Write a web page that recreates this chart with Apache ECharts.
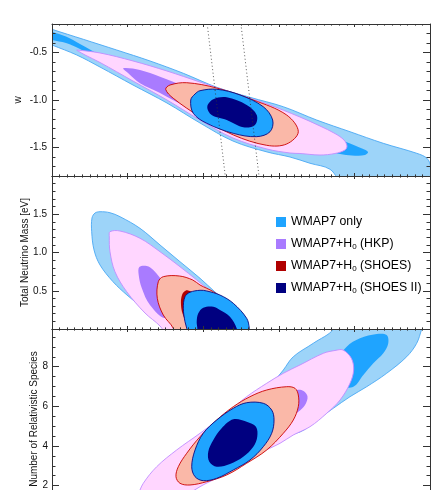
<!DOCTYPE html>
<html>
<head>
<meta charset="utf-8">
<script src="https://cdn.jsdelivr.net/npm/echarts@6/dist/echarts.min.js"></script>
<style>
  html, body { margin: 0; padding: 0; background: #fff; }
  #chart { width: 446px; height: 490px; }
</style>
</head>
<body>
<div id="chart"></div>
<script>
// shared x axis: H0
var h0Min = 50, h0Max = 100;
var wTicks = [-1.5, -1.0, -0.5];
var mnuTicks = [0.5, 1.0, 1.5];
var neffTicks = [2, 4, 6, 8];
var legendNames = ["WMAP7 only", "WMAP7+H0 (HKP)", "WMAP7+H0 (SHOES)", "WMAP7+H0 (SHOES II)"];

// panel 1: [H0, w]
var wWmapOuter = [[48.41,-0.21],[50,-0.256],[54.14,-0.361],[58.56,-0.474],[62.96,-0.589],[67.37,-0.719],[71.79,-0.866],[76.19,-0.972],[80.60,-1.071],[85.01,-1.211],[89.42,-1.334],[93.82,-1.456],[98.24,-1.561],[99.60,-1.614],[100.13,-1.705],[100.79,-1.947],[88.76,-1.895],[86.77,-1.729],[84.13,-1.666],[81.48,-1.6],[78.44,-1.547],[73.94,-1.432],[69.58,-1.242],[65.21,-1.032],[60.71,-0.842],[56.35,-0.653],[53.27,-0.526],[50,-0.421],[48.41,-0.368]];
var wWmapInner = [[48.41,-0.242],[50,-0.281],[51.85,-0.332],[53.70,-0.411],[56.35,-0.526],[59.0,-0.611],[69.58,-0.916],[80.16,-1.189],[86.77,-1.379],[89.42,-1.458],[91.01,-1.511],[91.80,-1.547],[91.40,-1.579],[90.08,-1.586],[88.49,-1.574],[82.80,-1.474],[69.58,-1.084],[59.0,-0.684],[56.35,-0.579],[53.70,-0.463],[51.85,-0.4],[50,-0.368],[48.41,-0.326]];
var wHkpOuter = [[53.27,-0.474],[56.35,-0.505],[60.71,-0.589],[65.21,-0.695],[69.58,-0.811],[73.94,-0.926],[78.44,-1.042],[82.80,-1.179],[85.45,-1.274],[87.43,-1.353],[88.62,-1.421],[89.02,-1.484],[88.76,-1.526],[87.43,-1.563],[85.45,-1.579],[82.80,-1.563],[81.48,-1.558],[78.44,-1.516],[73.94,-1.4],[69.58,-1.211],[65.21,-1.0],[60.71,-0.8],[56.35,-0.605],[54.37,-0.526],[53.44,-0.484]];
var wHkpInner = [[59.43,-0.666],[61.64,-0.684],[64.29,-0.755],[67.37,-0.853],[70.46,-0.965],[71.79,-1.071],[70.46,-1.123],[67.37,-1.053],[64.29,-0.926],[61.64,-0.824],[60.09,-0.719]];
var wShoesOuter = [[65.04,-0.888],[65.61,-0.842],[67.82,-0.818],[71.79,-0.874],[76.63,-1.0],[81.04,-1.158],[82.58,-1.334],[81.04,-1.463],[78.40,-1.477],[73.98,-1.368],[69.58,-1.176],[66.04,-0.982]];
var wShoes2Outer = [[68.35,-1.0],[68.92,-0.937],[69.58,-0.902],[71.79,-0.887],[74.87,-0.947],[77.95,-1.071],[79.19,-1.211],[78.84,-1.334],[77.08,-1.386],[73.98,-1.351],[70.46,-1.245],[68.69,-1.14]];
var wShoes2Inner = [[70.54,-1.071],[71.34,-0.993],[73.11,-0.972],[75.75,-1.053],[77.08,-1.158],[76.85,-1.263],[75.30,-1.287],[73.11,-1.211],[71.12,-1.158]];
var h0LineLeft = [[70.53,-0.2],[72.92,-1.8]];
var h0LineRight = [[74.99,-0.2],[77.38,-1.8]];

// panel 2: [H0, total neutrino mass]
var mnuWmapOuter = [[55.69,1.516],[56.35,1.533],[57.67,1.520],[59.0,1.468],[61.64,1.316],[64.29,1.098],[66.93,0.880],[69.58,0.663],[71.56,0.484],[73.54,0.314],[74.87,0.118],[75.53,-0.144],[65.08,-0.144],[64.68,0.013],[64.02,0.131],[62.08,0.271],[59.92,0.444],[58.07,0.618],[56.35,0.837],[55.56,1.033],[55.25,1.272],[55.29,1.451]];
var mnuHkpOuter = [[57.67,1.272],[59.0,1.281],[61.64,1.186],[64.29,1.010],[66.93,0.814],[69.14,0.641],[70.90,0.497],[72.88,0.314],[74.21,0.118],[74.87,-0.144],[65.61,-0.144],[65.08,-0.078],[64.29,0.039],[62.30,0.209],[59.88,0.488],[58.33,0.749],[57.67,1.010],[57.58,1.203]];
var mnuHkpInner = [[61.55,0.810],[62.53,0.824],[63.40,0.771],[64.95,0.575],[66.27,0.314],[64.95,0.144],[62.96,0.314],[61.87,0.536],[61.47,0.706]];
var mnuShoesOuter = [[66.84,0.693],[68.61,0.641],[69.58,0.575],[71.34,0.488],[73.11,0.357],[74.87,0.183],[75.75,0.009],[76.19,-0.144],[66.27,-0.144],[66.04,0.009],[64.72,0.183],[63.93,0.401],[64.06,0.618],[64.72,0.684]];
var mnuShoesInner = [[67.2,0.444],[67.9,0.505],[69.58,0.405],[70.90,0.183],[70.24,0.013],[68.4,-0.013],[67.6,0.118],[67.1,0.275]];
var mnuShoes2Outer = [[68.25,0.480],[69.58,0.506],[70.46,0.497],[72.22,0.444],[73.98,0.336],[75.75,0.140],[76.10,0.009],[76.19,-0.144],[67.99,-0.144],[67.82,0.009],[67.59,0.096],[67.37,0.271],[67.59,0.422]];
var mnuShoes2Inner = [[70.01,0.278],[71.34,0.291],[72.22,0.248],[73.54,0.161],[74.43,0.009],[74.60,-0.144],[69.18,-0.144],[69.22,0.009],[69.14,0.096],[69.35,0.205]];

// panel 3: [H0, number of relativistic species]
var neffWmapOuter = [[86.77,10.354],[99.34,10.354],[98.90,9.885],[98.24,9.179],[96.92,8.503],[94.27,7.666],[91.63,6.990],[89.42,6.486],[87.21,5.901],[85.01,5.311],[82.80,4.706],[78.84,4.403],[74.87,4.302],[77.51,6.320],[80.60,7.832],[81.92,8.503],[84.56,9.179],[87.21,9.885]];
var neffWmapInner = [[88.98,9.007],[90.74,9.431],[92.95,9.648],[94.27,9.597],[94.48,9.179],[93.82,8.675],[92.50,8.170],[91.18,7.580],[89.86,6.990],[88.10,7.076],[87.43,8.085]];
var neffHkpOuter = [[88.49,8.841],[89.60,8.422],[89.90,7.832],[89.42,7.162],[88.10,6.320],[86.34,5.649],[84.13,4.973],[81.92,4.555],[80.16,4.136],[77.51,3.632],[74.87,2.956],[72.22,2.452],[69.58,1.948],[66.93,1.277],[64.29,0.520],[60.32,0.520],[61.38,1.529],[62.08,2.119],[63.85,2.956],[66.49,3.798],[69.58,4.640],[73.11,5.649],[75.75,6.486],[78.40,7.162],[80.60,7.666],[82.80,8.085],[85.89,8.675],[87.43,8.816]];
var neffHkpInner = [[74.87,5.311],[77.51,6.067],[80.16,6.572],[82.41,6.824],[83.27,6.773],[83.80,6.496],[83.47,6.067],[82.54,5.714],[80.16,5.059],[77.51,4.302],[75.53,4.302]];
var neffShoesOuter = [[81.04,6.990],[82.14,6.910],[82.58,6.572],[82.58,5.982],[81.92,5.311],[80.60,4.640],[78.40,3.798],[75.75,3.128],[73.11,2.538],[70.46,2.200],[68.25,2.033],[66.93,2.119],[66.40,2.452],[66.71,2.956],[67.82,3.632],[69.58,4.469],[71.79,5.311],[73.98,5.982],[76.19,6.486],[78.40,6.824]];
var neffShoes2Outer = [[75.75,6.183],[77.95,6.153],[79.06,5.815],[79.37,5.311],[79.06,4.640],[77.95,3.965],[76.19,3.294],[73.98,2.790],[71.79,2.371],[70.01,2.250],[68.92,2.452],[68.48,2.956],[68.92,3.798],[70.01,4.640],[71.79,5.311],[73.98,5.901]];
var neffShoes2Inner = [[73.98,5.346],[75.75,5.225],[76.98,4.973],[77.15,4.469],[76.63,3.965],[75.30,3.460],[73.54,3.093],[71.79,2.956],[70.81,3.208],[70.67,3.713],[71.34,4.302],[72.44,4.892]];

var axisColor = "#333";
var font = "Liberation Sans, Arial, sans-serif";
var col = {
  wmapOuter: "#9dd4f9", wmapInner: "#1fa4ff", wmapEdge: "#4aa8f4",
  hkpOuter: "#ffd6ff", hkpInner: "#a97bff", hkpEdge: "#c08cff",
  shoesOuter: "#fab8a8", shoesInner: "#b00000", shoesEdge: "#cc0000",
  shoes2Outer: "#1fa4ff", shoes2Inner: "#000080", shoes2Edge: "#0a0a80"
};

// last panel runs past the bottom of the page, as in the cropped original
var grids = [
  { left: 52, right: 16, top: 24, height: 152, outerBoundsMode: "none" },
  { left: 52, right: 16, top: 176, height: 153, outerBoundsMode: "none" },
  { left: 52, right: 16, top: 329, height: 196.3, outerBoundsMode: "none" }
];

function xAxes(gi) {
  return ["bottom", "top"].map(function (pos) {
    return {
      gridIndex: gi, type: "value", min: h0Min, max: h0Max, interval: 10, position: pos, z: 10,
      axisLine: { onZero: false, lineStyle: { color: axisColor, width: 1 } },
      axisTick: { inside: true, length: 3, lineStyle: { color: axisColor } },
      minorTick: { show: true, splitNumber: 10, length: 1.6, lineStyle: { color: axisColor } },
      axisLabel: { show: false },
      splitLine: { show: false }
    };
  });
}

function yAxes(gi, min, max, minorStep, ticks, digits, margin) {
  var out = [];
  ["left", "right"].forEach(function (pos) {
    out.push({
      gridIndex: gi, type: "value", min: min, max: max, interval: minorStep, position: pos, z: 10,
      axisLine: { show: true, onZero: false, lineStyle: { color: axisColor, width: 1 } },
      axisTick: { inside: true, length: 3.5, lineStyle: { color: axisColor } },
      axisLabel: { show: false },
      splitLine: { show: false }
    });
    out.push({
      gridIndex: gi, type: "value", min: min, max: max, position: pos, z: 10,
      axisLine: { show: false, onZero: false },
      axisTick: { inside: true, length: 7, customValues: ticks, lineStyle: { color: axisColor } },
      axisLabel: {
        show: pos === "left", customValues: ticks, margin: margin,
        fontFamily: font, fontSize: 10, color: "#111",
        formatter: function (v) { return Number(v).toFixed(digits); }
      },
      splitLine: { show: false }
    });
  });
  return out;
}

function contour(name, gi, pts, fill, edge) {
  return {
    type: "custom", name: name, xAxisIndex: gi * 2, yAxisIndex: gi * 4,
    data: pts, silent: true, animation: false,
    itemStyle: { color: fill },
    renderItem: function (params, api) {
      if (params.dataIndex !== 0) return null;
      var cs = params.coordSys;
      return {
        type: "polygon",
        shape: { points: pts.map(function (p) { return api.coord(p); }), smooth: 0.35 },
        style: { fill: fill, stroke: edge || null, lineWidth: 0.9 },
        clipPath: { type: "rect", shape: { x: cs.x, y: cs.y, width: cs.width, height: cs.height } }
      };
    }
  };
}

function dotted(pts) {
  return {
    type: "line", xAxisIndex: 0, yAxisIndex: 0, data: pts, symbol: "none", silent: true,
    animation: false, z: 5,
    lineStyle: { color: "#333", width: 0.8, type: [1, 2.5] }
  };
}

var series = [
  contour("", 0, wWmapOuter, col.wmapOuter, col.wmapEdge),
  contour(legendNames[0], 0, wWmapInner, col.wmapInner),
  contour("", 0, wHkpOuter, col.hkpOuter, col.hkpEdge),
  contour(legendNames[1], 0, wHkpInner, col.hkpInner),
  contour("", 0, wShoesOuter, col.shoesOuter, col.shoesEdge),
  contour("", 0, wShoes2Outer, col.shoes2Outer, col.shoes2Edge),
  contour(legendNames[3], 0, wShoes2Inner, col.shoes2Inner),
  dotted(h0LineLeft),
  dotted(h0LineRight),

  contour("", 1, mnuWmapOuter, col.wmapOuter, col.wmapEdge),
  contour("", 1, mnuHkpOuter, col.hkpOuter, col.hkpEdge),
  contour("", 1, mnuHkpInner, col.hkpInner),
  contour("", 1, mnuShoesOuter, col.shoesOuter, col.shoesEdge),
  contour(legendNames[2], 1, mnuShoesInner, col.shoesInner),
  contour("", 1, mnuShoes2Outer, col.shoes2Outer, col.shoes2Edge),
  contour("", 1, mnuShoes2Inner, col.shoes2Inner),

  contour("", 2, neffWmapOuter, col.wmapOuter, col.wmapEdge),
  contour("", 2, neffWmapInner, col.wmapInner),
  contour("", 2, neffHkpOuter, col.hkpOuter, col.hkpEdge),
  contour("", 2, neffHkpInner, col.hkpInner),
  contour("", 2, neffShoesOuter, col.shoesOuter, col.shoesEdge),
  contour("", 2, neffShoes2Outer, col.shoes2Outer, col.shoes2Edge),
  contour("", 2, neffShoes2Inner, col.shoes2Inner)
];

var chart = echarts.init(document.getElementById("chart"), null, { renderer: "canvas" });
chart.setOption({
  animation: false,
  backgroundColor: "#fff",
  grid: grids,
  xAxis: xAxes(0).concat(xAxes(1), xAxes(2)),
  yAxis: yAxes(0, -1.8, -0.2, 0.1, wTicks, 1, 5)
    .concat(yAxes(1, 0, 2.0, 0.1, mnuTicks, 1, 5))
    .concat(yAxes(2, 0, 9.9, 0.5, neffTicks, 0, 4)),
  legend: {
    orient: "vertical", left: 271, top: 210, itemWidth: 10, itemHeight: 10, itemGap: 8,
    icon: "rect", selectedMode: false, data: legendNames,
    formatter: function (n) { return n.replace("H0", "H{s|0}"); },
    textStyle: {
      fontFamily: font, fontSize: 12.3, color: "#000", lineHeight: 14,
      rich: { s: { fontFamily: font, fontSize: 8, lineHeight: 14, padding: [5, 0, 0, 0] } }
    }
  },
  graphic: [
    { type: "text", x: 18, y: 100, rotation: Math.PI / 2,
      style: { text: "w", font: "10px " + font, fill: "#111", textAlign: "center", textVerticalAlign: "middle" } },
    { type: "text", x: 25, y: 252.5, rotation: Math.PI / 2,
      style: { text: "Total Neutrino Mass [eV]", font: "10px " + font, fill: "#111", textAlign: "center", textVerticalAlign: "middle" } },
    { type: "text", x: 34, y: 419, rotation: Math.PI / 2,
      style: { text: "Number of Relativistic Species", font: "10px " + font, fill: "#111", textAlign: "center", textVerticalAlign: "middle" } }
  ],
  series: series
});
</script>
</body>
</html>
